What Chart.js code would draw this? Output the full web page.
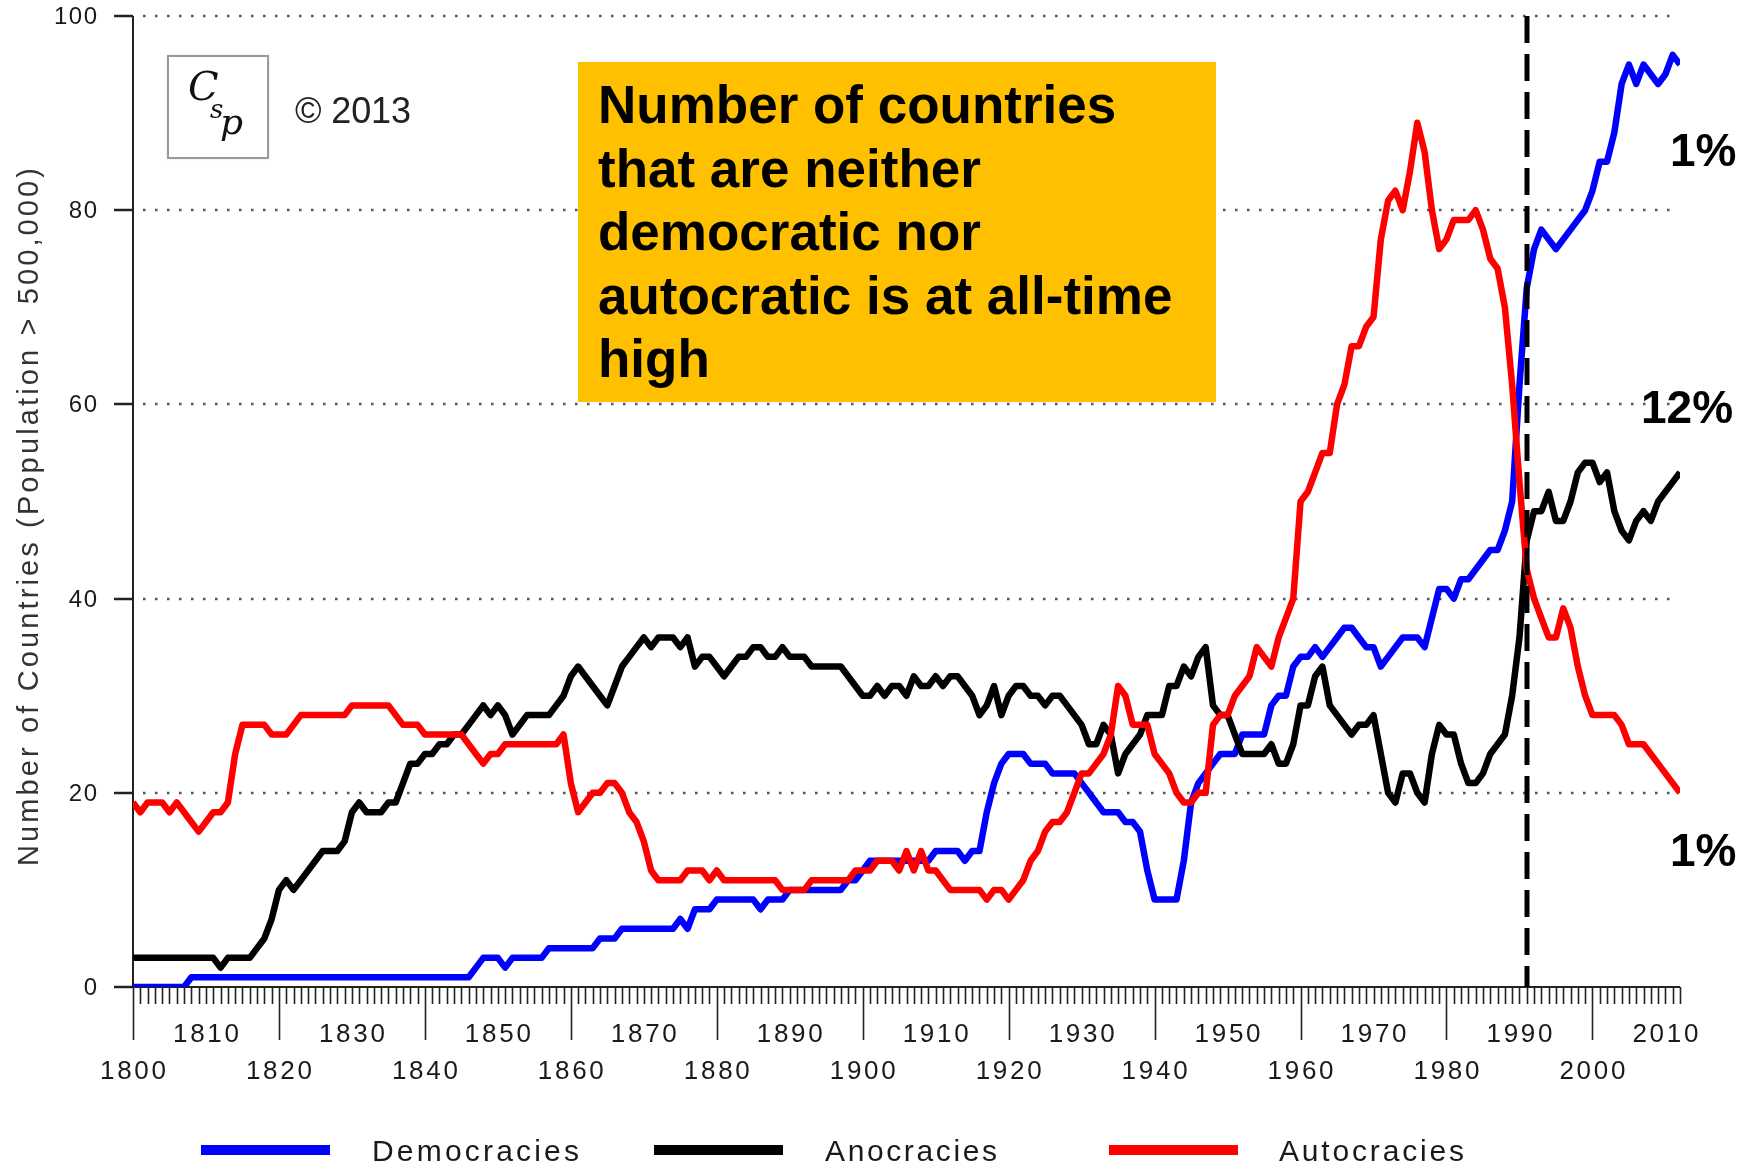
<!DOCTYPE html>
<html>
<head>
<meta charset="utf-8">
<title>Democracies, Anocracies and Autocracies 1800-2012</title>
<script src="https://cdn.jsdelivr.net/npm/chart.js"></script>
<style>
  html, body { margin: 0; padding: 0; background: #fff; }
  #wrap { width: 1752px; height: 1166px; }
</style>
</head>
<body>
<div id="wrap"><canvas id="chart1" width="1752" height="1166"></canvas></div>
<script>
// yearly counts, 1800 .. 2012
var firstYear = 1800;

var democracies = [
    0, 0, 0, 0, 0, 0, 0, 0, 1, 1,            // 1800
    1, 1, 1, 1, 1, 1, 1, 1, 1, 1,            // 1810
    1, 1, 1, 1, 1, 1, 1, 1, 1, 1,            // 1820
    1, 1, 1, 1, 1, 1, 1, 1, 1, 1,            // 1830
    1, 1, 1, 1, 1, 1, 1, 2, 3, 3,            // 1840
    3, 2, 3, 3, 3, 3, 3, 4, 4, 4,            // 1850
    4, 4, 4, 4, 5, 5, 5, 6, 6, 6,            // 1860
    6, 6, 6, 6, 6, 7, 6, 8, 8, 8,            // 1870
    9, 9, 9, 9, 9, 9, 8, 9, 9, 9,            // 1880
    10, 10, 10, 10, 10, 10, 10, 10, 11, 11,  // 1890
    12, 13, 13, 13, 13, 13, 13, 13, 13, 13,  // 1900
    14, 14, 14, 14, 13, 14, 14, 18, 21, 23,  // 1910
    24, 24, 24, 23, 23, 23, 22, 22, 22, 22,  // 1920
    21, 20, 19, 18, 18, 18, 17, 17, 16, 12,  // 1930
    9, 9, 9, 9, 13, 19, 21, 22, 23, 24,      // 1940
    24, 24, 26, 26, 26, 26, 29, 30, 30, 33,  // 1950
    34, 34, 35, 34, 35, 36, 37, 37, 36, 35,  // 1960
    35, 33, 34, 35, 36, 36, 36, 35, 38, 41,  // 1970
    41, 40, 42, 42, 43, 44, 45, 45, 47, 50,  // 1980
    62, 72, 76, 78, 77, 76, 77, 78, 79, 80,  // 1990
    82, 85, 85, 88, 93, 95, 93, 95, 94, 93,  // 2000
    94, 96, 95                               // 2010
];

var anocracies = [
    3, 3, 3, 3, 3, 3, 3, 3, 3, 3,            // 1800
    3, 3, 2, 3, 3, 3, 3, 4, 5, 7,            // 1810
    10, 11, 10, 11, 12, 13, 14, 14, 14, 15,  // 1820
    18, 19, 18, 18, 18, 19, 19, 21, 23, 23,  // 1830
    24, 24, 25, 25, 26, 26, 27, 28, 29, 28,  // 1840
    29, 28, 26, 27, 28, 28, 28, 28, 29, 30,  // 1850
    32, 33, 32, 31, 30, 29, 31, 33, 34, 35,  // 1860
    36, 35, 36, 36, 36, 35, 36, 33, 34, 34,  // 1870
    33, 32, 33, 34, 34, 35, 35, 34, 34, 35,  // 1880
    34, 34, 34, 33, 33, 33, 33, 33, 32, 31,  // 1890
    30, 30, 31, 30, 31, 31, 30, 32, 31, 31,  // 1900
    32, 31, 32, 32, 31, 30, 28, 29, 31, 28,  // 1910
    30, 31, 31, 30, 30, 29, 30, 30, 29, 28,  // 1920
    27, 25, 25, 27, 26, 22, 24, 25, 26, 28,  // 1930
    28, 28, 31, 31, 33, 32, 34, 35, 29, 28,  // 1940
    28, 26, 24, 24, 24, 24, 25, 23, 23, 25,  // 1950
    29, 29, 32, 33, 29, 28, 27, 26, 27, 27,  // 1960
    28, 24, 20, 19, 22, 22, 20, 19, 24, 27,  // 1970
    26, 26, 23, 21, 21, 22, 24, 25, 26, 30,  // 1980
    36, 46, 49, 49, 51, 48, 48, 50, 53, 54,  // 1990
    54, 52, 53, 49, 47, 46, 48, 49, 48, 50,  // 2000
    51, 52, 53                               // 2010
];

var autocracies = [
    19, 18, 19, 19, 19, 18, 19, 18, 17, 16,  // 1800
    17, 18, 18, 19, 24, 27, 27, 27, 27, 26,  // 1810
    26, 26, 27, 28, 28, 28, 28, 28, 28, 28,  // 1820
    29, 29, 29, 29, 29, 29, 28, 27, 27, 27,  // 1830
    26, 26, 26, 26, 26, 26, 25, 24, 23, 24,  // 1840
    24, 25, 25, 25, 25, 25, 25, 25, 25, 26,  // 1850
    21, 18, 19, 20, 20, 21, 21, 20, 18, 17,  // 1860
    15, 12, 11, 11, 11, 11, 12, 12, 12, 11,  // 1870
    12, 11, 11, 11, 11, 11, 11, 11, 11, 10,  // 1880
    10, 10, 10, 11, 11, 11, 11, 11, 11, 12,  // 1890
    12, 12, 13, 13, 13, 12, 14, 12, 14, 12,  // 1900
    12, 11, 10, 10, 10, 10, 10, 9, 10, 10,   // 1910
    9, 10, 11, 13, 14, 16, 17, 17, 18, 20,   // 1920
    22, 22, 23, 24, 26, 31, 30, 27, 27, 27,  // 1930
    24, 23, 22, 20, 19, 19, 20, 20, 27, 28,  // 1940
    28, 30, 31, 32, 35, 34, 33, 36, 38, 40,  // 1950
    50, 51, 53, 55, 55, 60, 62, 66, 66, 68,  // 1960
    69, 77, 81, 82, 80, 84, 89, 86, 80, 76,  // 1970
    77, 79, 79, 79, 80, 78, 75, 74, 70, 62,  // 1980
    52, 43, 40, 38, 36, 36, 39, 37, 33, 30,  // 1990
    28, 28, 28, 28, 27, 25, 25, 25, 24, 23,  // 2000
    22, 21, 20                               // 2010
];

var years = democracies.map(function(v, i) { return firstYear + i; });

var yTickValues = [0, 20, 40, 60, 80, 100];
var yGridValues = [20, 40, 60, 80, 100];
var xLabelsUpper = ['1810', '1830', '1850', '1870', '1890', '1910', '1930', '1950', '1970', '1990', '2010'];
var xLabelsLower = ['1800', '1820', '1840', '1860', '1880', '1900', '1920', '1940', '1960', '1980', '2000'];
var markerYear = 1991;

var yTitle = 'Number of Countries (Population > 500,000)';
var noteLines = ['Number of countries', 'that are neither', 'democratic nor', 'autocratic is at all-time', 'high'];
var shareNotes = ['1%', '12%', '1%'];
var legendItems = [
    { label: 'Democracies', color: '#0000ff' },
    { label: 'Anocracies', color: '#000000' },
    { label: 'Autocracies', color: '#ff0000' }
];

function pts(values) {
    return values.map(function(v, i) { return { x: years[i], y: v }; });
}

// draws text with extra room between letters so it fills a given width
function spacedText(ctx, text, x, y, width) {
    var chars = text.split('');
    var plain = ctx.measureText(text).width;
    var extra = chars.length > 1 ? (width - plain) / (chars.length - 1) : 0;
    var cx = x;
    chars.forEach(function(ch) {
        ctx.fillText(ch, cx, y);
        cx += ctx.measureText(ch).width + extra;
    });
}

var frame = {
    id: 'frame',
    beforeDatasetsDraw: function(chart) {
        var ctx = chart.ctx, a = chart.chartArea, xs = chart.scales.x, ys = chart.scales.y;
        ctx.save();

        // dotted grid
        ctx.strokeStyle = '#555';
        ctx.lineWidth = 2.5;
        ctx.setLineDash([2.5, 9.5]);
        yGridValues.forEach(function(v) {
            var py = Math.round(ys.getPixelForValue(v));
            ctx.beginPath();
            ctx.moveTo(a.left + 10, py);
            ctx.lineTo(a.right - 4, py);
            ctx.stroke();
        });
        ctx.setLineDash([]);

        // axes
        ctx.strokeStyle = '#222';
        ctx.lineWidth = 2;
        ctx.beginPath();
        ctx.moveTo(a.left, ys.getPixelForValue(100));
        ctx.lineTo(a.left, a.bottom);
        ctx.lineTo(a.right, a.bottom);
        ctx.stroke();

        // y ticks + labels
        ctx.fillStyle = '#1a1a1a';
        ctx.font = '24px "Liberation Sans", Arial, sans-serif';
        ctx.textBaseline = 'middle';
        yTickValues.forEach(function(v) {
            var py = Math.round(ys.getPixelForValue(v));
            ctx.lineWidth = 2.5;
            ctx.beginPath();
            ctx.moveTo(a.left - 19, py);
            ctx.lineTo(a.left, py);
            ctx.stroke();
            var t = String(v);
            var w = ctx.measureText(t).width + 1.5 * (t.length - 1);
            spacedText(ctx, t, 97 - w, py + 1, w);
        });

        // x ticks: one per year, long ones every 20 years
        ctx.lineWidth = 1.6;
        for (var yr = xs.min; yr <= xs.max; yr++) {
            var px = Math.round(xs.getPixelForValue(yr)) + 0.5;
            var len = (yr % 20 === 0) ? 53 : 17;
            ctx.beginPath();
            ctx.moveTo(px, a.bottom);
            ctx.lineTo(px, a.bottom + len);
            ctx.stroke();
        }

        // x labels on two staggered rows
        ctx.font = '26px "Liberation Sans", Arial, sans-serif';
        ctx.textBaseline = 'alphabetic';
        xLabelsUpper.forEach(function(t) {
            var px = xs.getPixelForValue(Number(t));
            spacedText(ctx, t, px - 33, a.bottom + 55, 66);
        });
        xLabelsLower.forEach(function(t) {
            var px = xs.getPixelForValue(Number(t));
            spacedText(ctx, t, px - 33, a.bottom + 92, 66);
        });

        // y title
        ctx.save();
        ctx.font = '29px "Liberation Sans", Arial, sans-serif';
        ctx.fillStyle = '#333';
        ctx.translate(38, 517);
        ctx.rotate(-Math.PI / 2);
        spacedText(ctx, yTitle, -349, 0, 698);
        ctx.restore();

        // orange note
        ctx.fillStyle = '#ffc000';
        ctx.fillRect(578, 62, 638, 340);
        ctx.fillStyle = '#000';
        ctx.font = 'bold 53px "Liberation Sans", Arial, sans-serif';
        noteLines.forEach(function(line, i) {
            ctx.fillText(line, 598, 123 + i * 63.6);
        });

        // CSP mark
        ctx.fillStyle = '#fff';
        ctx.shadowColor = 'rgba(0,0,0,0.25)';
        ctx.shadowBlur = 3;
        ctx.fillRect(168, 56, 100, 102);
        ctx.shadowColor = 'transparent';
        ctx.strokeStyle = '#999';
        ctx.lineWidth = 2;
        ctx.strokeRect(168, 56, 100, 102);
        ctx.fillStyle = '#111';
        ctx.font = 'italic 40px "DejaVu Serif", serif';
        ctx.fillText('C', 188, 100);
        ctx.font = 'italic 26px "DejaVu Serif", serif';
        ctx.fillText('s', 210, 118);
        ctx.font = 'italic 36px "DejaVu Serif", serif';
        ctx.fillText('p', 220, 134);

        ctx.fillStyle = '#222';
        ctx.font = '36px "Liberation Sans", Arial, sans-serif';
        spacedText(ctx, '\u00a9 2013', 295, 123, 116);

        ctx.restore();
    },
    afterDatasetsDraw: function(chart) {
        var ctx = chart.ctx, a = chart.chartArea, xs = chart.scales.x, ys = chart.scales.y;
        ctx.save();

        // 1991 marker
        var mx = Math.round(xs.getPixelForValue(markerYear));
        ctx.strokeStyle = '#000';
        ctx.lineWidth = 5;
        ctx.setLineDash([27, 11]);
        ctx.beginPath();
        ctx.moveTo(mx, ys.getPixelForValue(100));
        ctx.lineTo(mx, a.bottom);
        ctx.stroke();
        ctx.setLineDash([]);

        // share notes
        ctx.fillStyle = '#000';
        ctx.font = 'bold 46px "Liberation Sans", Arial, sans-serif';
        ctx.fillText(shareNotes[0], 1670, 166);
        ctx.fillText(shareNotes[1], 1641, 423);
        ctx.fillText(shareNotes[2], 1670, 866);

        // legend
        var lineX = [201, 654, 1109];
        var textX = [372, 825, 1279];
        var textW = [207, 172, 185];
        ctx.font = '30px "Liberation Sans", Arial, sans-serif';
        legendItems.forEach(function(item, i) {
            ctx.strokeStyle = item.color;
            ctx.lineWidth = 10;
            ctx.beginPath();
            ctx.moveTo(lineX[i], 1150);
            ctx.lineTo(lineX[i] + 129, 1150);
            ctx.stroke();
            ctx.fillStyle = '#1a1a1a';
            spacedText(ctx, item.label, textX[i], 1161, textW[i]);
        });

        ctx.restore();
    }
};

// chart1
var ctx = document.getElementById('chart1').getContext('2d');
var myChart = new Chart(ctx, {
    type: 'line',
    data: {
        datasets: [{
            label: 'Democracies',
            data: pts(democracies),
            borderColor: '#0000ff',
            backgroundColor: '#0000ff',
            borderWidth: 6.5,
            order: 2
        },
        {
            label: 'Anocracies',
            data: pts(anocracies),
            borderColor: '#000000',
            backgroundColor: '#000000',
            borderWidth: 6.5,
            order: 1
        },
        {
            label: 'Autocracies',
            data: pts(autocracies),
            borderColor: '#ff0000',
            backgroundColor: '#ff0000',
            borderWidth: 6.5,
            order: 0
        }]
    },
    options: {
        responsive: false,
        animation: false,
        events: [],
        layout: {
            padding: { left: 133, right: 72, top: 16, bottom: 179 }
        },
        elements: {
            point: { radius: 0 },
            line: { tension: 0, borderJoinStyle: 'round', fill: false }
        },
        plugins: {
            legend: { display: false },
            tooltip: { enabled: false }
        },
        scales: {
            x: { type: 'linear', min: 1800, max: 2012, display: false },
            y: { min: 0, max: 100, display: false }
        }
    },
    plugins: [frame]
});
</script>
</body>
</html>
